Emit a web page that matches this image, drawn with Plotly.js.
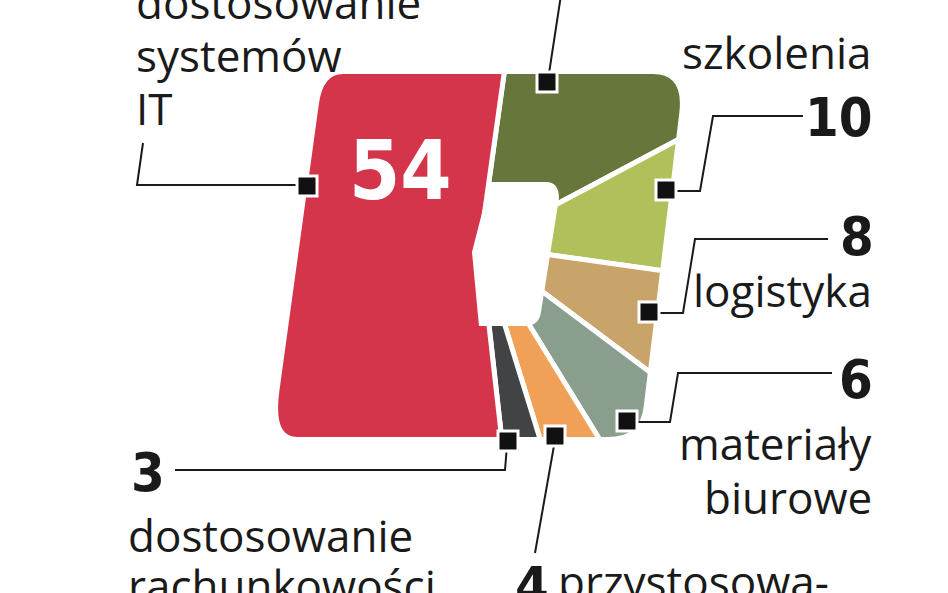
<!DOCTYPE html>
<html>
<head>
<meta charset="utf-8">
<script src="https://cdn.plot.ly/plotly-3.0.1.min.js"></script>
<style>
  html, body { margin: 0; padding: 0; background: #fff; overflow: hidden; }
  #chart { position: absolute; left: 0; top: -105px; width: 948px; height: 760px; }
</style>
</head>
<body>
<div id="chart"></div>
<script>
// slices, clockwise from 12 o'clock
const categories = ['inne', 'szkolenia', 'logistyka', 'materiały biurowe', 'przystosowanie', 'dostosowanie rachunkowości', 'dostosowanie systemów IT'];
const values = [15, 10, 8, 6, 4, 3, 54];
const sliceColors = ['#67763a', '#b1c05a', '#c9a46a', '#8a9e8d', '#f0a057', '#414345', '#d4354b'];

// the div is taller than the window and shifted up so the pie centre can sit where it is in the picture
const W = 948, H = 760, OFF = 105;
function px(x) { return x / W; }
function py(y) { return 1 - (y + OFF) / H; }
function pt(p) { return px(p[0]).toFixed(5) + ',' + py(p[1]).toFixed(5); }

function polyline(points) {
  return points.map((p, i) => (i === 0 ? 'M' : 'L') + pt(p)).join('');
}

// quadrilateral with rounded corners, radii given as [along previous edge, along next edge]
function roundedQuad(verts, radii) {
  let d = '';
  let n = verts.length;
  for (let i = 0; i < n; i++) {
    let p = verts[i], a = verts[(i + n - 1) % n], b = verts[(i + 1) % n];
    let la = Math.hypot(a[0] - p[0], a[1] - p[1]);
    let lb = Math.hypot(b[0] - p[0], b[1] - p[1]);
    let p1 = [p[0] + radii[i][0] * (a[0] - p[0]) / la, p[1] + radii[i][0] * (a[1] - p[1]) / la];
    let p2 = [p[0] + radii[i][1] * (b[0] - p[0]) / lb, p[1] + radii[i][1] * (b[1] - p[1]) / lb];
    d += (i === 0 ? 'M' : 'L') + pt(p1) + 'Q' + pt(p) + ' ' + pt(p2);
  }
  return d + 'Z';
}

let outline = roundedQuad(
  [[323, 74], [684, 74], [640, 437], [273, 437]],
  [[30, 20], [31, 39], [30, 32], [24, 47]]
);

let shapes = [];
// white mask around the rounded, slanted square
shapes.push({
  type: 'path', xref: 'paper', yref: 'paper', layer: 'above',
  path: 'M0,0L1,0L1,1L0,1Z' + outline, fillrule: 'evenodd',
  fillcolor: '#ffffff', line: {width: 0}
});
// inner cut-out
shapes.push({
  type: 'path', xref: 'paper', yref: 'paper', layer: 'above',
  path: 'M' + pt([490, 182]) + 'L' + pt([546, 182]) + 'Q' + pt([559, 182]) + ' ' + pt([559, 198]) +
        'L' + pt([541, 312]) + 'Q' + pt([539, 326]) + ' ' + pt([525, 326]) +
        'L' + pt([479, 326]) + 'L' + pt([472, 252]) + 'Z',
  fillcolor: '#ffffff', line: {width: 0}
});

// leader lines
let leaders = [
  [[143, 143], [137, 185], [298, 185]],
  [[548, 80], [561, -5]],
  [[670, 191], [700, 191], [713, 116], [803, 116]],
  [[652, 313], [683, 313], [695, 239], [828, 239]],
  [[630, 422], [670, 422], [678, 373], [832, 373]],
  [[555, 440], [535, 553]],
  [[507, 445], [505, 470], [175, 470]]
];
leaders.forEach(l => shapes.push({
  type: 'path', xref: 'paper', yref: 'paper', layer: 'above',
  path: polyline(l), line: {color: '#1a1a1a', width: 2}
}));

// little black squares on the slice edges
let markers = [[297, 176], [537, 72], [656, 180], [639, 302], [617, 411], [545, 426], [498, 431]];
markers.forEach(m => shapes.push({
  type: 'rect', xref: 'paper', yref: 'paper', layer: 'above',
  x0: px(m[0]), x1: px(m[0] + 20), y0: py(m[1] + 20), y1: py(m[1]),
  fillcolor: '#111111', line: {color: '#ffffff', width: 3}
}));

const labelFont = {family: 'Open Sans, Noto Sans, sans-serif', size: 44, color: '#1a1a1a'};
const numFont = {family: 'Liberation Sans Narrow, DejaVu Sans Condensed, sans-serif', size: 54, color: '#1a1a1a', weight: 700};

// y is the bottom of the text box, a bit below the baseline
function ann(text, x, y, xanchor, font) {
  return {
    text: text, xref: 'paper', yref: 'paper', x: px(x), y: py(y),
    xanchor: xanchor, yanchor: 'bottom', align: xanchor,
    showarrow: false, borderpad: 0, font: font
  };
}

// one annotation per line so the line spacing can follow the picture
function block(lines, x, y0, step, xanchor) {
  return lines.map((t, i) => ann(t, x, y0 + i * step, xanchor, labelFont));
}

let annotations = [].concat(
  block(['dostosowanie', 'systemów', 'IT'], 135, 33, 53, 'left'),
  [ann(String(values[6]), 400, 219, 'center', Object.assign({}, numFont, {size: 82, color: '#ffffff'}))],
  block(['szkolenia'], 873, 83, 0, 'right'),
  [ann(String(values[1]), 874, 150, 'right', numFont)],
  [ann(String(values[2]), 875, 269, 'right', numFont)],
  block(['logistyka'], 873, 321, 0, 'right'),
  [ann(String(values[3]), 874, 412, 'right', numFont)],
  block(['materiały', 'biurowe'], 873, 474, 54, 'right'),
  [ann(String(values[5]), 130, 505, 'left', numFont)],
  block(['dostosowanie', 'rachunkowości'], 127, 566, 50, 'left'),
  [ann(String(values[4]), 514, 619, 'left', numFont)],
  block(['przystosowa-'], 557, 612, 0, 'left')
);

let pie = {
  type: 'pie',
  labels: categories,
  values: values,
  sort: false,
  direction: 'clockwise',
  rotation: 8,
  hole: 0,
  marker: {colors: sliceColors, line: {color: '#ffffff', width: 5}},
  textinfo: 'none',
  hoverinfo: 'skip',
  showlegend: false,
  domain: {x: [px(170), px(790)], y: [py(555), py(-65)]}
};

let layout = {
  width: W, height: H,
  margin: {l: 0, r: 0, t: 0, b: 0},
  paper_bgcolor: '#ffffff',
  showlegend: false,
  shapes: shapes,
  annotations: annotations
};

Plotly.newPlot('chart', [pie], layout, {staticPlot: true, displayModeBar: false});
</script>
</body>
</html>
